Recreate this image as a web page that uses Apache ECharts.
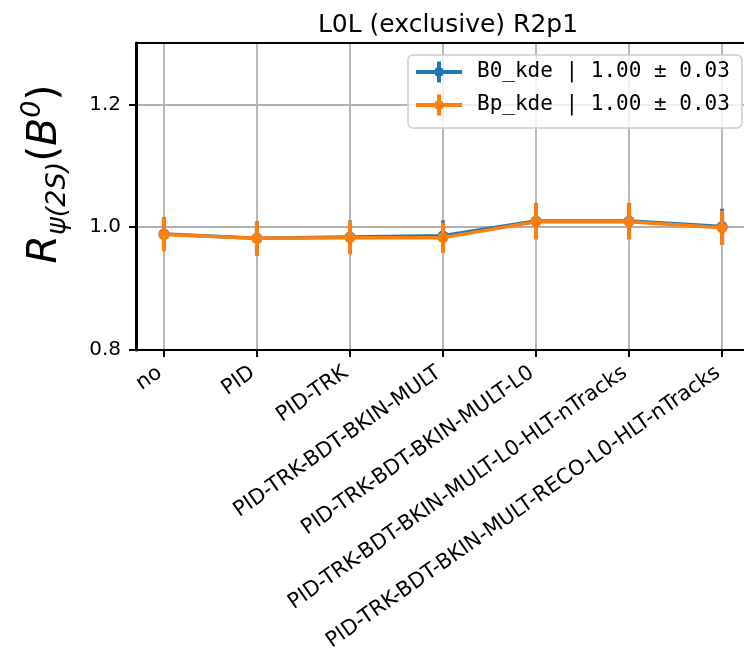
<!DOCTYPE html>
<html>
<head>
<meta charset="utf-8">
<script src="https://cdn.jsdelivr.net/npm/echarts@6/dist/echarts.min.js"></script>
<style>
html,body{margin:0;padding:0;background:#fff;}
#chart{width:744px;height:662px;}
</style>
</head>
<body>
<div id="chart"></div>
<script>
var categories = ["no","PID","PID-TRK","PID-TRK-BDT-BKIN-MULT","PID-TRK-BDT-BKIN-MULT-L0","PID-TRK-BDT-BKIN-MULT-L0-HLT-nTracks","PID-TRK-BDT-BKIN-MULT-RECO-L0-HLT-nTracks"];
var b0Values = [0.989, 0.982, 0.984, 0.986, 1.010, 1.010, 1.001];
var b0Errors = [0.027, 0.028, 0.027, 0.025, 0.029, 0.029, 0.029];
var bpValues = [0.988, 0.982, 0.983, 0.983, 1.009, 1.009, 0.999];
var bpErrors = [0.027, 0.028, 0.027, 0.025, 0.029, 0.029, 0.028];
var yTicks = [0.8, 1.0, 1.2];
var seriesNames = ["B0_kde | 1.00 \u00b1 0.03", "Bp_kde | 1.00 \u00b1 0.03"];
var titleText = "L0L (exclusive) R2p1";

var xIdx = categories.map(function(_, i){ return i; });
var BLUE = '#1f77b4', ORANGE = '#ff7f0e';
var FONT = 'DejaVu Sans';

function errData(vals, errs){
  return vals.map(function(v, i){ return [i, v - errs[i], v + errs[i]]; });
}
function lineData(vals){
  return vals.map(function(v, i){ return [i, v]; });
}
function errRender(color){
  return function(params, api){
    var x = api.value(0);
    var lo = api.coord([x, api.value(1)]);
    var hi = api.coord([x, api.value(2)]);
    return {
      type: 'line',
      shape: {x1: lo[0], y1: lo[1], x2: hi[0], y2: hi[1]},
      style: {stroke: color, lineWidth: 4}
    };
  };
}

var legendIcon = 'path://M0 8.5 H46 V12.5 H0 Z M21 0 H25 V21 H21 Z M28 10.5 A5 5 0 1 1 18 10.5 A5 5 0 1 1 28 10.5 Z';

var chart = echarts.init(document.getElementById('chart'), null, {renderer: 'canvas'});
chart.setOption({
  animation: false,
  backgroundColor: '#fff',
  title: {
    text: titleText,
    left: 443, top: 8, textAlign: 'center',
    textStyle: {fontFamily: FONT, fontWeight: 'normal', fontSize: 25, color: '#000'}
  },
  grid: {
    left: 136, top: 43, width: 614, height: 307,
    outerBoundsMode: 'none', containLabel: false,
    show: false
  },
  legend: {
    orient: 'vertical',
    left: 408, top: 55,
    data: [
      {name: seriesNames[0], icon: legendIcon, itemStyle: {color: BLUE, borderWidth: 0}},
      {name: seriesNames[1], icon: legendIcon, itemStyle: {color: ORANGE, borderWidth: 0}}
    ],
    itemWidth: 46, itemHeight: 21, itemGap: 9,
    padding: [5, 0, 11, 8],
    backgroundColor: 'rgba(255,255,255,0.8)',
    borderColor: '#cccccc', borderWidth: 1.5, borderRadius: 5,
    textStyle: {fontFamily: 'DejaVu Sans Mono', fontSize: 21, lineHeight: 24, color: '#000', padding: [0, 12, 0, 10]},
    selectedMode: false
  },
  xAxis: [{
    type: 'value', min: -0.3, max: 6.3,
    axisLine: {show: true, onZero: false, lineStyle: {color: '#000', width: 2}},
    axisTick: {show: true, customValues: xIdx, length: 7, lineStyle: {color: '#000', width: 2}},
    axisLabel: {
      customValues: xIdx,
      rotate: 35, margin: 18,
      fontFamily: FONT, fontSize: 21, color: '#000', padding: [0, 5, 0, 0],
      formatter: function(v){ return categories[Math.round(v)]; }
    },
    splitLine: {show: true, lineStyle: {color: '#b0b0b0', width: 1.8}}
  }, {
    type: 'value', position: 'top', min: -0.3, max: 6.3,
    axisLine: {show: true, onZero: false, lineStyle: {color: '#000', width: 2}},
    axisTick: {show: false}, axisLabel: {show: false}, splitLine: {show: false}
  }],
  yAxis: {
    type: 'value', min: 0.8, max: 1.3,
    axisLine: {show: true, onZero: false, lineStyle: {color: '#000', width: 3}},
    axisTick: {show: true, customValues: yTicks, length: 7, lineStyle: {color: '#000', width: 2}},
    axisLabel: {
      customValues: yTicks, margin: 15,
      fontFamily: FONT, fontSize: 20, color: '#000',
      formatter: function(v){ return v.toFixed(1); }
    },
    splitLine: {show: true, lineStyle: {color: '#b0b0b0', width: 1.8}}
  },
  graphic: [{
    type: 'text',
    x: 45, y: 174,
    rotation: Math.PI / 2,
    style: {
      text: '{r|R}{sub|\u03c8(2S)}{p|(}{b|B}{sup|0}{p|)}',
      align: 'center', verticalAlign: 'middle',
      fill: '#000',
      rich: {
        r: {fontFamily: FONT, fontStyle: 'italic', fontSize: 41, lineHeight: 56, verticalAlign: 'middle'},
        sub: {fontFamily: FONT, fontStyle: 'italic', fontSize: 27, lineHeight: 56, verticalAlign: 'bottom', padding: [0,0,2,0]},
        p: {fontFamily: FONT, fontSize: 41, lineHeight: 56, verticalAlign: 'middle'},
        b: {fontFamily: FONT, fontStyle: 'italic', fontSize: 41, lineHeight: 56, verticalAlign: 'middle'},
        sup: {fontFamily: FONT, fontStyle: 'italic', fontSize: 27, lineHeight: 56, verticalAlign: 'top', padding: [2,0,0,0]}
      }
    }
  }],
  series: [
    {
      name: seriesNames[0], type: 'custom', renderItem: errRender(BLUE),
      data: errData(b0Values, b0Errors), z: 2, encode: {x: 0, y: [1, 2]}
    },
    {
      name: seriesNames[0], type: 'line', data: lineData(b0Values),
      symbol: 'circle', symbolSize: 11, z: 3,
      lineStyle: {color: BLUE, width: 3.5}, itemStyle: {color: BLUE}
    },
    {
      name: seriesNames[1], type: 'custom', renderItem: errRender(ORANGE),
      data: errData(bpValues, bpErrors), z: 4, encode: {x: 0, y: [1, 2]}
    },
    {
      name: seriesNames[1], type: 'line', data: lineData(bpValues),
      symbol: 'circle', symbolSize: 11, z: 5,
      lineStyle: {color: ORANGE, width: 3.5}, itemStyle: {color: ORANGE}
    }
  ]
});
</script>
</body>
</html>
